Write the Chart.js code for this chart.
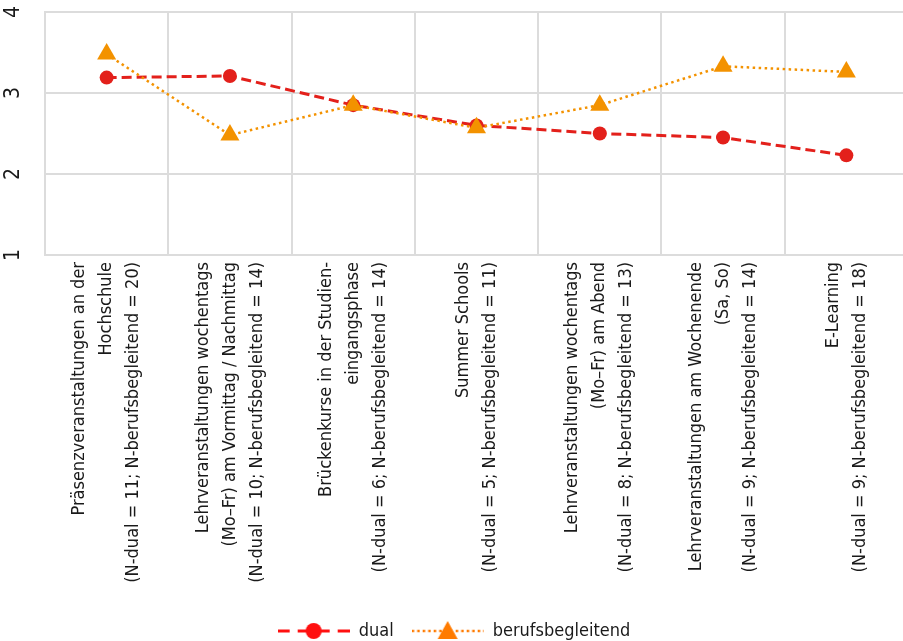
<!DOCTYPE html>
<html>
<head>
<meta charset="utf-8">
<script src="https://cdn.jsdelivr.net/npm/chart.js@4"></script>
<style>
  html, body { margin: 0; padding: 0; background: #fff; overflow: hidden; }
</style>
</head>
<body>
<canvas id="chart" width="908" height="641"></canvas>
<script>
// category labels (one entry per line)
const categories = [
    ['Präsenzveranstaltungen an der', 'Hochschule', '(N-dual = 11; N-berufsbegleitend = 20)'],
    ['Lehrveranstaltungen wochentags', '(Mo–Fr) am Vormittag / Nachmittag', '(N-dual = 10; N-berufsbegleitend = 14)'],
    ['Brückenkurse in der Studien-', 'eingangsphase', '(N-dual = 6; N-berufsbegleitend = 14)'],
    ['Summer Schools', '(N-dual = 5; N-berufsbegleitend = 11)'],
    ['Lehrveranstaltungen wochentags', '(Mo–Fr) am Abend', '(N-dual = 8; N-berufsbegleitend = 13)'],
    ['Lehrveranstaltungen am Wochenende', '(Sa, So)', '(N-dual = 9; N-berufsbegleitend = 14)'],
    ['E-Learning', '(N-dual = 9; N-berufsbegleitend = 18)']
];
const dualValues = [3.19, 3.21, 2.85, 2.60, 2.50, 2.45, 2.23];
const berufsValues = [3.48, 2.48, 2.85, 2.57, 2.85, 3.33, 3.26];
const yTicks = [1, 2, 3, 4];

const FONT = '"DejaVu Sans Condensed", "Liberation Sans Narrow", sans-serif';
const RED = '#e3201b';
const ORANGE = '#f39200';
const GRID = '#dcdcdc';

// small line+marker images for the legend
function legendIcon(color, dash, width, marker) {
    const c = document.createElement('canvas');
    c.width = 72;
    c.height = 24;
    const g = c.getContext('2d');
    g.strokeStyle = color;
    g.lineWidth = width;
    g.setLineDash(dash);
    g.beginPath();
    g.moveTo(0, 12);
    g.lineTo(72, 12);
    g.stroke();
    g.setLineDash([]);
    g.fillStyle = color;
    g.beginPath();
    if (marker === 'circle') {
        g.arc(36, 12, 8, 0, Math.PI * 2);
    } else {
        g.moveTo(36, 2);
        g.lineTo(46, 20);
        g.lineTo(26, 20);
        g.closePath();
    }
    g.fill();
    return c;
}
const legendIcons = {
    dual: legendIcon('#ff1010', [12, 8], 3, 'circle'),
    berufsbegleitend: legendIcon('#ff7b00', [2.5, 3], 2.5, 'triangle')
};

// rotated tick labels for both axes
const rotatedLabels = {
    id: 'rotatedLabels',
    afterDraw(chart) {
        const ctx = chart.ctx;
        const x = chart.scales.x;
        const y = chart.scales.y;
        ctx.save();
        ctx.fillStyle = '#1a1a1a';

        ctx.font = '21px ' + FONT;
        ctx.textAlign = 'center';
        ctx.textBaseline = 'middle';
        yTicks.forEach(function (v) {
            ctx.save();
            ctx.translate(14, y.getPixelForValue(v));
            ctx.rotate(-Math.PI / 2);
            ctx.fillText(String(v), 0, 0);
            ctx.restore();
        });

        ctx.font = '18px ' + FONT;
        ctx.textAlign = 'right';
        const lh = 27;
        categories.forEach(function (lines, i) {
            ctx.save();
            ctx.translate(x.getPixelForValue(i), x.top + 7);
            ctx.rotate(-Math.PI / 2);
            lines.forEach(function (line, j) {
                ctx.fillText(line, 0, (j - (lines.length - 1) / 2) * lh);
            });
            ctx.restore();
        });
        ctx.restore();
    }
};

new Chart(document.getElementById('chart'), {
    type: 'line',
    data: {
        labels: categories,
        datasets: [{
            label: 'berufsbegleitend',
            data: berufsValues,
            borderColor: ORANGE,
            backgroundColor: ORANGE,
            borderWidth: 2.5,
            borderDash: [2.5, 3.5],
            pointStyle: 'triangle',
            pointRadius: 11,
            pointBorderWidth: 0,
            pointBackgroundColor: ORANGE,
            tension: 0
        }, {
            label: 'dual',
            data: dualValues,
            borderColor: RED,
            backgroundColor: RED,
            borderWidth: 3,
            borderDash: [10, 5],
            pointStyle: 'circle',
            pointRadius: 7,
            pointBorderWidth: 0,
            pointBackgroundColor: RED,
            tension: 0
        }]
    },
    options: {
        responsive: false,
        animation: false,
        layout: {
            autoPadding: false,
            padding: { left: 0, top: 12, right: 0, bottom: -9 }
        },
        plugins: {
            tooltip: { enabled: false },
            legend: {
                position: 'bottom',
                labels: {
                    usePointStyle: true,
                    pointStyleWidth: 72,
                    padding: 18,
                    color: '#1a1a1a',
                    font: { size: 18, family: FONT },
                    sort: function (a, b) {
                        return b.datasetIndex - a.datasetIndex;
                    },
                    generateLabels: function (chart) {
                        const items = Chart.defaults.plugins.legend.labels.generateLabels(chart);
                        items.forEach(function (item) {
                            item.pointStyle = legendIcons[item.text];
                        });
                        return items;
                    }
                }
            }
        },
        scales: {
            x: {
                offset: true,
                grid: { offset: true, color: GRID, lineWidth: 2, drawTicks: false },
                border: { color: GRID, width: 2 },
                ticks: { display: false },
                afterFit: function (scale) {
                    scale.height = 349;
                }
            },
            y: {
                min: 1,
                max: 4,
                grid: { color: GRID, lineWidth: 2, drawTicks: false },
                border: { color: GRID, width: 2 },
                ticks: { display: false, stepSize: 1 },
                afterFit: function (scale) {
                    scale.width = 45;
                }
            }
        }
    },
    plugins: [rotatedLabels]
});
</script>
</body>
</html>
